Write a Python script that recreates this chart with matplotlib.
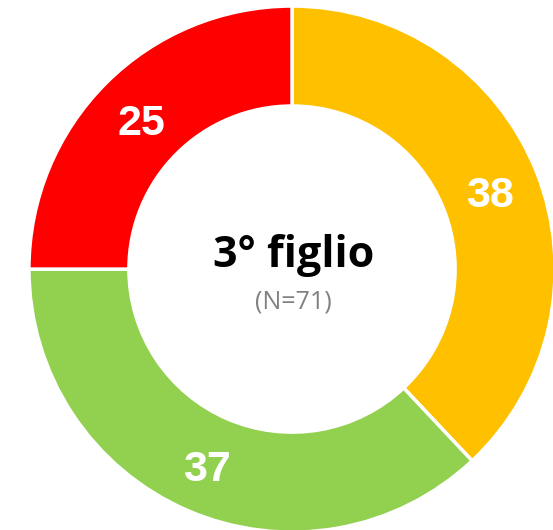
import matplotlib
matplotlib.use("Agg")
import matplotlib.pyplot as plt

# ── Data ──────────────────────────────────────────────────────────────────────
categories = ["Giallo", "Verde", "Rosso"]
values     = [38, 37, 25]
colors     = ["#FFC000", "#92D050", "#FF0000"]
title      = "3° figlio"
subtitle   = "(N=71)"

fig = plt.figure(figsize=(5.53, 5.30), dpi=100)
ax = fig.add_axes([0, 0, 1, 1])

total = sum(values)
wedges, texts, autotexts = ax.pie(
    values,
    colors=colors,
    startangle=90,
    counterclock=False,
    radius=1.0,
    autopct=lambda p: f"{round(p * total / 100)}",
    pctdistance=0.81,
    wedgeprops=dict(width=0.38, edgecolor="white", linewidth=2.5),
    textprops=dict(color="white", fontsize=31, fontweight="bold",
                   family="Liberation Sans"),
)
# labels sit a touch lower in the original
for t in autotexts:
    x, y = t.get_position()
    t.set_position((x, y - 0.02))

# centre labels
ax.text(0.005, 0.05, title, ha="center", va="center", fontsize=31,
        fontweight="bold", family="Open Sans", color="black")
ax.text(0.005, -0.125, subtitle, ha="center", va="center", fontsize=18,
        family="Open Sans", color="#808080")

# chart is cropped tight around the ring
ax.set_xlim(-1.110, 0.992)
ax.set_ylim(-0.992, 1.023)
ax.set_aspect("auto")
ax.axis("off")

plt.savefig("out.png", dpi=100)
